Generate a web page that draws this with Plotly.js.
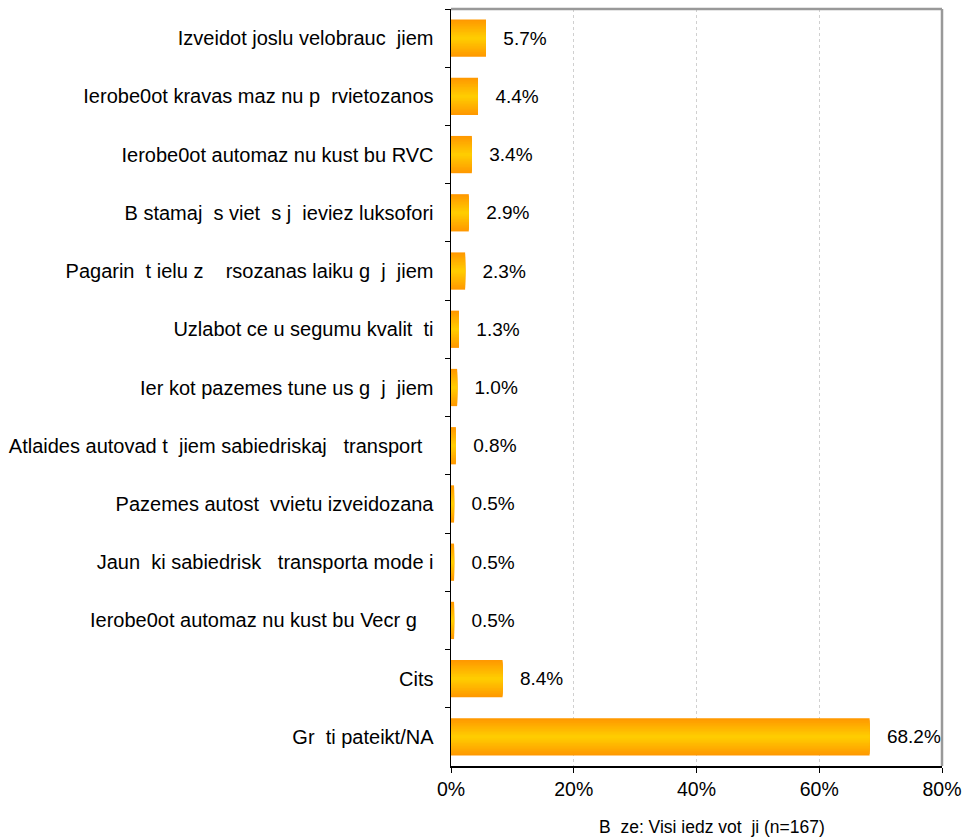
<!DOCTYPE html>
<html>
<head>
<meta charset="utf-8">
<script src="https://cdn.plot.ly/plotly-3.0.1.min.js"></script>
<style>html,body{margin:0;padding:0;background:#fff;}#chart{width:963px;height:838px;}</style>
</head>
<body>
<div id="chart"></div>
<script>
var categories = [
  "Izveidot joslu velobrauc\u00a0\u00a0jiem",
  "Ierobe0ot kravas maz\u00a0nu p\u00a0\u00a0rvietozanos",
  "Ierobe0ot automaz\u00a0nu kust\u00a0bu RVC",
  "B\u00a0stamaj\u00a0\u00a0s viet\u00a0\u00a0s j\u00a0\u00a0ieviez luksofori",
  "Pagarin\u00a0\u00a0t ielu z\u00a0\u00a0\u00a0\u00a0rsozanas laiku g\u00a0\u00a0j\u00a0\u00a0jiem",
  "Uzlabot ce\u00a0u segumu kvalit\u00a0\u00a0ti",
  "Ier\u00a0kot pazemes tune\u00a0us g\u00a0\u00a0j\u00a0\u00a0jiem",
  "Atlaides autovad\u00a0t\u00a0\u00a0jiem sabiedriskaj\u00a0\u00a0\u00a0transport\u00a0\u00a0",
  "Pazemes autost\u00a0\u00a0vvietu izveidozana",
  "Jaun\u00a0\u00a0ki sabiedrisk\u00a0\u00a0\u00a0transporta mode\u00a0i",
  "Ierobe0ot automaz\u00a0nu kust\u00a0bu Vecr\u00a0g\u00a0\u00a0\u00a0",
  "Cits",
  "Gr\u00a0\u00a0ti pateikt/NA"
];
var values = [5.7, 4.4, 3.4, 2.9, 2.3, 1.3, 1.0, 0.8, 0.5, 0.5, 0.5, 8.4, 68.2];
var xTickVals = [0, 20, 40, 60, 80];
var xTickText = ["0%", "20%", "40%", "60%", "80%"];
var caption = "B\u00a0\u00a0ze: Visi iedz\u00a0vot\u00a0\u00a0ji (n=167)";

var traces = [];
var N = 12;
var W = 0.64;
function lerp(a, b, t) { return Math.round(a + (b - a) * t); }
for (var i = 0; i < N; i++) {
  var t = i / (N - 1);
  var g = lerp(0x99, 0xCC, t);
  var col = "rgb(255," + g + ",0)";
  var tr = {
    type: "bar",
    orientation: "h",
    x: values,
    y: categories,
    width: W * (1 - i / N),
    marker: {color: col, line: {width: 0}},
    hoverinfo: "skip",
    showlegend: false,
    cliponaxis: false
  };
  if (i === 0) {
    tr.text = values.map(function (v) { return "\u00a0\u00a0\u2009" + v.toFixed(1) + "%"; });
    tr.textposition = "outside";
    tr.textfont = {family: "Liberation Sans, Arial, sans-serif", size: 19, color: "#000"};
  }
  traces.push(tr);
}

var layout = {
  width: 963,
  height: 838,
  margin: {l: 451, r: 21, t: 9, b: 72},
  paper_bgcolor: "#fff",
  plot_bgcolor: "#fff",
  barmode: "overlay",
  font: {family: "Liberation Sans, Arial, sans-serif", color: "#000"},
  xaxis: {
    range: [0, 80],
    tickvals: xTickVals,
    ticktext: xTickText,
    showgrid: true,
    gridcolor: "#d0d0d0",
    griddash: "dot",
    gridwidth: 1,
    zeroline: false,
    showline: true,
    linecolor: "#000",
    linewidth: 1.5,
    ticks: "outside",
    ticklen: 5,
    tickcolor: "#000",
    tickfont: {size: 19.5, color: "#000"},
    fixedrange: true
  },
  yaxis: {
    type: "category",
    autorange: "reversed",
    tickson: "boundaries",
    ticks: "outside",
    ticklen: 5,
    tickcolor: "#000",
    showline: true,
    linecolor: "#000",
    linewidth: 1.5,
    showgrid: false,
    zeroline: false,
    ticklabelstandoff: 12,
    tickfont: {size: 20, color: "#000"},
    fixedrange: true
  },
  shapes: [
    {type: "line", xref: "paper", yref: "paper", x0: 0, x1: 1, y0: 1, y1: 1, line: {color: "#999", width: 2.5}},
    {type: "line", xref: "paper", yref: "paper", x0: 1, x1: 1, y0: 0, y1: 1, line: {color: "#999", width: 2.5}}
  ],
  annotations: [
    {text: caption, xref: "paper", yref: "paper", x: 0.532, y: -0.08, xanchor: "center", yanchor: "middle", showarrow: false, font: {size: 17.5, color: "#000"}}
  ]
};

Plotly.newPlot("chart", traces, layout, {displayModeBar: false, staticPlot: true});
</script>
</body>
</html>
